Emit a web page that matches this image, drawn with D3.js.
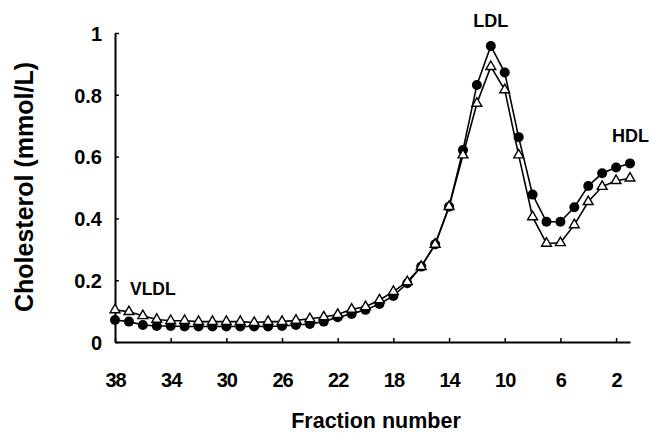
<!DOCTYPE html>
<html>
<head>
<meta charset="utf-8">
<script src="https://cdn.jsdelivr.net/npm/d3@7"></script>
<style>
  html, body { margin: 0; padding: 0; background: #fff; }
  svg { display: block; }
  text { font-family: "Liberation Sans", Arial, Helvetica, sans-serif; font-weight: bold; fill: #000; }
</style>
</head>
<body>
<svg id="chart" width="651" height="434"></svg>
<script>
// ---- data ----
const fractions = [38,37,36,35,34,33,32,31,30,29,28,27,26,25,24,23,22,21,20,19,18,17,16,15,14,13,12,11,10,9,8,7,6,5,4,3,2,1];
const filledSeries = [0.071,0.066,0.055,0.052,0.052,0.050,0.050,0.050,0.050,0.050,0.050,0.050,0.052,0.055,0.058,0.066,0.080,0.091,0.104,0.123,0.149,0.190,0.244,0.316,0.438,0.621,0.832,0.958,0.872,0.663,0.477,0.389,0.389,0.436,0.505,0.546,0.565,0.578];
const openSeries   = [0.104,0.098,0.085,0.073,0.069,0.069,0.066,0.066,0.066,0.066,0.063,0.066,0.066,0.070,0.075,0.081,0.089,0.106,0.114,0.136,0.163,0.195,0.244,0.316,0.438,0.605,0.772,0.891,0.816,0.605,0.405,0.319,0.321,0.379,0.454,0.503,0.522,0.530];
const xTicks = [38,34,30,26,22,18,14,10,6,2];
const yTicks = [0,0.2,0.4,0.6,0.8,1];
const yTickLabels = ["0","0.2","0.4","0.6","0.8","1"];
const peakLabels = ["VLDL", "LDL", "HDL"];

// ---- scales ----
const svg = d3.select("#chart");
const x = d3.scaleLinear().domain([38, 1]).range([115, 630]);
const y = d3.scaleLinear().domain([0, 1]).range([342, 33]);

// ---- axes ----
const xAxis = d3.axisBottom(x).tickValues(xTicks).tickSizeInner(-4).tickSizeOuter(0).tickPadding(0).tickFormat(d3.format("d"));
const gx = svg.append("g").attr("transform", "translate(0,342)").call(xAxis);
gx.select(".domain").attr("stroke", "#000").attr("stroke-width", 2);
gx.selectAll(".tick line").attr("stroke", "#000").attr("stroke-width", 1.5);
gx.selectAll(".tick text").attr("font-size", 20).attr("dy", null).attr("y", 45)
  .style("font-family", "'Liberation Sans', Arial, sans-serif").style("font-weight", "bold").attr("letter-spacing", -1);

const yAxis = d3.axisLeft(y).tickValues(yTicks).tickSizeInner(-4).tickSizeOuter(0).tickPadding(0)
  .tickFormat((d, i) => yTickLabels[i]);
const gy = svg.append("g").attr("transform", "translate(115,0)").call(yAxis);
gy.select(".domain").attr("stroke", "#000").attr("stroke-width", 2);
gy.selectAll(".tick line").attr("stroke", "#000").attr("stroke-width", 1.5);
gy.selectAll(".tick text").attr("font-size", 20).attr("x", -13).attr("dy", "0.36em")
  .style("font-family", "'Liberation Sans', Arial, sans-serif").style("font-weight", "bold");

// ---- axis titles ----
svg.append("text").attr("x", 376).attr("y", 428).attr("text-anchor", "middle")
  .attr("font-size", 21.5).text("Fraction number");
svg.append("text").attr("transform", "translate(33,187) rotate(-90)").attr("text-anchor", "middle")
  .attr("font-size", 25).text("Cholesterol (mmol/L)");

// ---- lines ----
const filledData = fractions.map((f, i) => ({f, v: filledSeries[i]}));
const openData = fractions.map((f, i) => ({f, v: openSeries[i]}));
const line = d3.line().x(d => x(d.f)).y(d => y(d.v));
svg.append("path").datum(filledData).attr("d", line).attr("fill", "none").attr("stroke", "#000").attr("stroke-width", 1.6);
svg.append("path").datum(openData).attr("d", line).attr("fill", "none").attr("stroke", "#000").attr("stroke-width", 1.6);

// ---- markers ----
svg.append("g").selectAll("circle").data(filledData).join("circle")
  .attr("cx", d => x(d.f)).attr("cy", d => y(d.v)).attr("r", 5).attr("fill", "#000");
const tri = d3.symbol().type(d3.symbolTriangle).size(42);
svg.append("g").selectAll("path").data(openData).join("path")
  .attr("transform", d => `translate(${x(d.f)},${y(d.v)})`).attr("d", tri)
  .attr("fill", "#fff").attr("stroke", "#000").attr("stroke-width", 1.4);

// ---- peak labels ----
svg.append("text").attr("x", 130).attr("y", 295).attr("font-size", 17.5).text(peakLabels[0]);
svg.append("text").attr("x", x(11)).attr("y", 27).attr("text-anchor", "middle").attr("font-size", 18).text(peakLabels[1]);
svg.append("text").attr("x", 612).attr("y", 142).attr("font-size", 18).text(peakLabels[2]);
</script>
</body>
</html>
